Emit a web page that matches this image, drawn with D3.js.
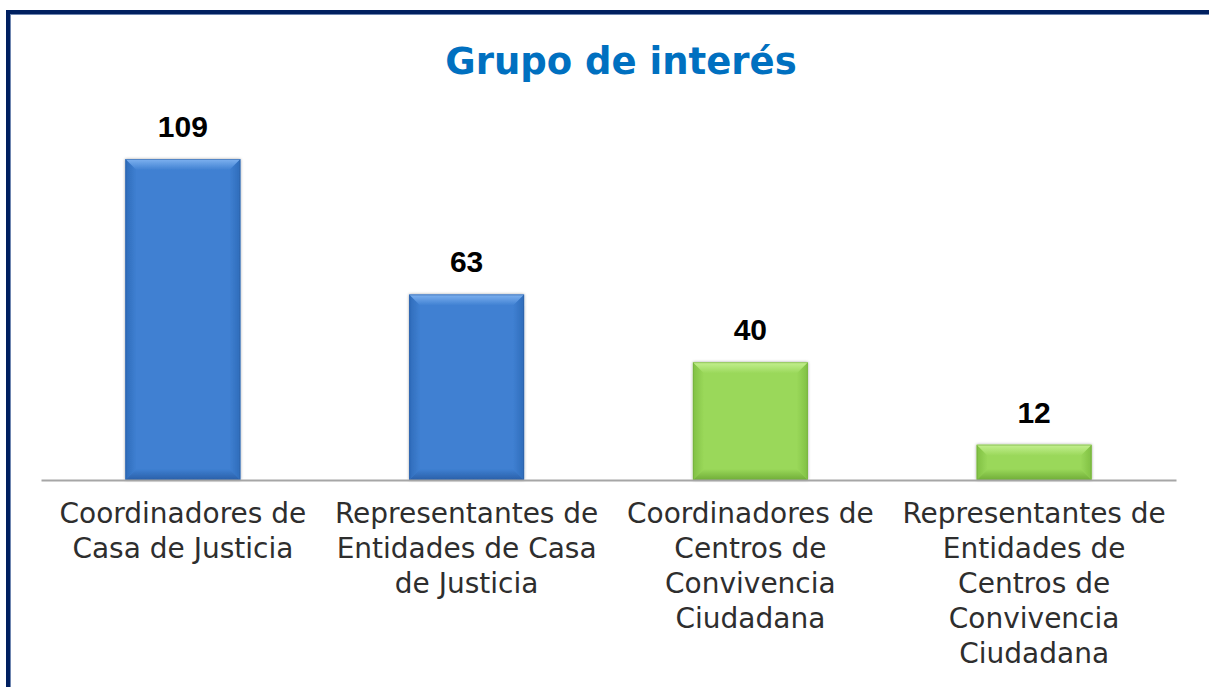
<!DOCTYPE html>
<html>
<head>
<meta charset="utf-8">
<script src="https://cdn.jsdelivr.net/npm/d3@7"></script>
<style>
  html, body { margin: 0; padding: 0; background: #ffffff; }
  svg { display: block; }
</style>
</head>
<body>
<svg id="chart" width="1209" height="687"></svg>
<script>
// ---- data ----
const title = "Grupo de interés";
const categories = [
  "Coordinadores de\nCasa de Justicia",
  "Representantes de\nEntidades de Casa\nde Justicia",
  "Coordinadores de\nCentros de\nConvivencia\nCiudadana",
  "Representantes de\nEntidades de\nCentros de\nConvivencia\nCiudadana"
];
const values = [109, 63, 40, 12];
const groups = ["blue", "blue", "green", "green"];

// ---- styles ----
const palette = {
  blue:  { face: "#3f80d2", top: "#7fb2f0", side: "#2f6cba", bottom: "#2a5fa8", edge: "#2a5c9e" },
  green: { face: "#9ad85a", top: "#c4f090", side: "#80c044", bottom: "#70ad38", edge: "#6ea53a" }
};

const svg = d3.select("#chart");
const W = 1209, H = 687;
const defs = svg.append("defs");

// frame
svg.append("rect").attr("x", 8).attr("y", 12).attr("width", W + 20).attr("height", H + 20)
  .attr("fill", "none").attr("stroke", "#002060").attr("stroke-width", 4);
svg.append("rect").attr("x", 10.5).attr("y", 14.5).attr("width", W + 20).attr("height", H + 20)
  .attr("fill", "none").attr("stroke", "#6f86b0").attr("stroke-width", 1);

// title
svg.append("text").attr("x", 621).attr("y", 74).attr("text-anchor", "middle")
  .attr("font-family", "DejaVu Sans").attr("font-weight", "bold").attr("font-size", 37)
  .attr("fill", "#0070c0").text(title);

// scales
const x = d3.scaleBand().domain(d3.range(categories.length)).range([41, 1176])
  .paddingInner(0.595).paddingOuter(0.2975);
const y = d3.scaleLinear().domain([0, 109]).range([480, 159]);

// gradients for bevel faces
Object.entries(palette).forEach(([k, c]) => {
  const mk = (id, x1, y1, x2, y2, c1, c2) => {
    const g = defs.append("linearGradient").attr("id", id)
      .attr("x1", x1).attr("y1", y1).attr("x2", x2).attr("y2", y2);
    g.append("stop").attr("offset", "0%").attr("stop-color", c1);
    g.append("stop").attr("offset", "100%").attr("stop-color", c2);
  };
  mk(`${k}-top`, 0, 0, 0, 1, c.top, c.face);
  mk(`${k}-left`, 0, 0, 1, 0, c.side, c.face);
  mk(`${k}-right`, 0, 0, 1, 0, c.face, c.side);
  mk(`${k}-bottom`, 0, 0, 0, 1, c.face, c.bottom);
});

// shadow filter
const f = defs.append("filter").attr("id", "sh").attr("x", "-10%").attr("y", "-10%").attr("width", "120%").attr("height", "120%");
f.append("feGaussianBlur").attr("in", "SourceAlpha").attr("stdDeviation", 1.5).attr("result", "b");
f.append("feComponentTransfer").attr("in", "b").attr("result", "o2")
  .append("feFuncA").attr("type", "linear").attr("slope", 0.35);
const m = f.append("feMerge");
m.append("feMergeNode").attr("in", "o2");
m.append("feMergeNode").attr("in", "SourceGraphic");

// bars with bevel
const bev = 11;
const bars = svg.append("g").selectAll("g.bar").data(values).join("g").attr("class", "bar")
  .attr("filter", "url(#sh)");
bars.each(function(v, i) {
  const g = d3.select(this);
  const k = groups[i];
  const c = palette[k];
  const x0 = x(i), x1 = x(i) + x.bandwidth();
  const y0 = y(v), y1 = y(0);
  const b = Math.min(bev, (y1 - y0) / 2);
  g.append("rect").attr("x", x0).attr("y", y0).attr("width", x1 - x0).attr("height", y1 - y0).attr("fill", c.face);
  const poly = (pts, fill) => g.append("polygon").attr("points", pts.map(p => p.join(",")).join(" ")).attr("fill", fill);
  poly([[x0, y0], [x0 + b, y0 + b], [x0 + b, y1 - b], [x0, y1]], `url(#${k}-left)`);
  poly([[x1, y0], [x1, y1], [x1 - b, y1 - b], [x1 - b, y0 + b]], `url(#${k}-right)`);
  poly([[x0, y1], [x0 + b, y1 - b], [x1 - b, y1 - b], [x1, y1]], `url(#${k}-bottom)`);
  poly([[x0, y0], [x1, y0], [x1 - b, y0 + b], [x0 + b, y0 + b]], `url(#${k}-top)`);
  g.append("rect").attr("x", x0 + 0.5).attr("y", y0 + 0.5).attr("width", x1 - x0 - 1).attr("height", y1 - y0 - 1)
    .attr("fill", "none").attr("stroke", c.edge).attr("stroke-width", 1).attr("stroke-opacity", 0.5);
});

// axis
const axis = svg.append("g").attr("transform", `translate(0,${y(0)})`)
  .call(d3.axisBottom(x).tickSize(0).tickFormat(""));
axis.select(".domain").attr("stroke", "#a6a6a6").attr("stroke-width", 2);

// value labels
svg.append("g").selectAll("text").data(values).join("text")
  .attr("x", (d, i) => x(i) + x.bandwidth() / 2)
  .attr("y", d => y(d) - 22)
  .attr("text-anchor", "middle")
  .attr("font-family", "Liberation Sans").attr("font-weight", "bold").attr("font-size", 30)
  .attr("fill", "#000").text(d => d);

// category labels
const lab = svg.append("g").selectAll("text").data(categories).join("text")
  .attr("text-anchor", "middle")
  .attr("font-family", "DejaVu Sans").attr("font-size", 28)
  .attr("fill", "#2e2e2e");
lab.each(function(d, i) {
  const t = d3.select(this);
  d.split("\n").forEach((line, k) => {
    t.append("tspan").attr("x", x(i) + x.bandwidth() / 2).attr("y", 523 + k * 35).text(line);
  });
});
</script>
</body>
</html>
